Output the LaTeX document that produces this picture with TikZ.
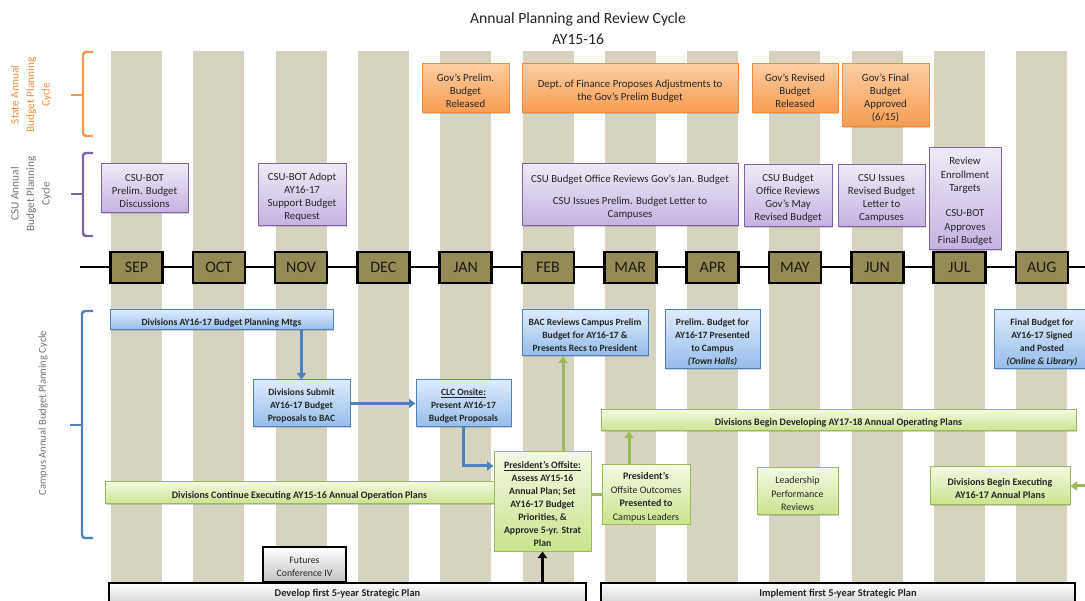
\documentclass[tikz,border=0pt]{standalone}
\usepackage{fontspec}
\setmainfont{Carlito}
\usetikzlibrary{fit,shadows,arrows.meta,calc}
\definecolor{stripe}{RGB}{214,211,192}
\definecolor{olive}{RGB}{148,138,84}
\definecolor{mtxt}{RGB}{30,28,20}
\definecolor{orgB}{RGB}{240,140,60}
\definecolor{orgT}{RGB}{252,205,160}
\definecolor{orgM}{RGB}{247,156,82}
\definecolor{purB}{RGB}{128,100,162}
\definecolor{purT}{RGB}{238,234,246}
\definecolor{purM}{RGB}{196,178,224}
\definecolor{bluB}{RGB}{79,129,189}
\definecolor{bluT}{RGB}{222,235,252}
\definecolor{bluM}{RGB}{150,188,236}
\definecolor{grnB}{RGB}{155,187,89}
\definecolor{grnT}{RGB}{242,249,226}
\definecolor{grnM}{RGB}{202,228,140}
\definecolor{txt}{RGB}{38,38,38}
\definecolor{lbl}{RGB}{115,115,115}
\tikzset{
  box/.style={inner sep=0pt, line width=1pt,
    drop shadow={shadow xshift=1.4pt, shadow yshift=-1.4pt, opacity=0.35}},
  btxt/.style={inner sep=0pt, align=center, text=txt, font=\fontsize{10.8}{13}\selectfont},
  btxtb/.style={btxt, font=\bfseries\fontsize{9.6}{13}\selectfont},
  btxtg/.style={btxt, font=\bfseries\fontsize{10}{13.5}\selectfont},
  obox/.style={box, draw=orgB, top color=orgT, bottom color=orgM},
  pbox/.style={box, draw=purB, top color=purT, bottom color=purM},
  bbox/.style={box, draw=bluB, top color=bluT, bottom color=bluM},
  gbox/.style={box, draw=grnB, top color=grnT, bottom color=grnM},
  kbox/.style={box, draw=black, top color=white, bottom color={rgb,255:red,195;green,195;blue,195}},
  mbox/.style={draw=black, line width=2.6pt, fill=olive, minimum width=52pt, minimum height=31pt,
    inner sep=0pt, text=mtxt, font=\fontsize{16}{18}\selectfont},
  barrow/.style={draw=bluB, line width=3pt, -{Triangle[length=6.5pt,width=9pt]}},
  garrow/.style={draw=grnB, line width=3pt, -{Triangle[length=6.5pt,width=9pt]}},
  karrow/.style={draw=black, line width=3pt, -{Triangle[length=6.5pt,width=9pt]}},
  brack/.style={line width=2.4pt, rounded corners=3pt},
  vlabel/.style={rotate=90, align=center, font=\fontsize{11.3}{15.5}\selectfont}
}
% #1 box style, #2 name, #3 fit corners, #4 text style, #5 text
\newcommand{\boxnode}[5]{%
  \node[#1, fit={#3}] (#2) {};
  \node[#4] (#2-t) at ([yshift=-2.5pt]#2.center) {#5};
}
\begin{document}
\begin{tikzpicture}[x=1pt,y=-1pt]
\clip (0,0) rectangle (1085,601);
\fill[white] (0,0) rectangle (1085,601);
% stripes
\foreach \i in {0,...,11}{
  \fill[stripe] ({111+82.3*\i},51) rectangle ({162+82.3*\i},601);
}
% title
\node[text=txt, font=\fontsize{15.6}{18}\selectfont] (title) at (578,19) {Annual Planning and Review Cycle};
\node[text=txt, font=\fontsize{15.6}{18}\selectfont] (ay) at (578,39) {AY15-16};
% timeline
\coordinate (tl) at (80,267);
\coordinate (tr) at (1090,267);
\draw[line width=2.4pt] (tl) -- (tr);
\foreach \m [count=\i from 0] in {SEP,OCT,NOV,DEC,JAN,FEB,MAR,APR,MAY,JUN,JUL,AUG}{
  \node[mbox] (m\i) at ({136.5+82.3*\i},267.5) {\m};
}
% brackets
\draw[brack, orgB!90!white] (93,52) -- (83,52) -- (83,136) -- (93,136);
\draw[line width=2.4pt, orgB!90!white] (83,95) -- (71,95);
\draw[brack, purB] (93,153) -- (83,153) -- (83,236) -- (93,236);
\draw[line width=2.4pt, purB] (83,194) -- (71,194);
\draw[brack, bluB] (93,311) -- (82,311) -- (82,538) -- (93,538);
\draw[line width=2.4pt, bluB] (82,425) -- (70,425);
\node[vlabel, text=orgB] (lstate) at (31,95) {State Annual\\Budget Planning\\Cycle};
\node[vlabel, text=lbl] (lcsu) at (31,194) {CSU Annual\\Budget Planning\\Cycle};
\node[vlabel, text=lbl, font=\fontsize{10.6}{12}\selectfont] (lcampus) at (43,413) {Campus Annual Budget Planning Cycle};
% state boxes
\boxnode{obox}{g1}{(422,64) (509,113)}{btxt}{Gov's Prelim.\\Budget\\Released}
\boxnode{obox}{g2}{(522,64) (738,113)}{btxt}{Dept. of Finance Proposes Adjustments to\\the Gov's Prelim Budget}
\boxnode{obox}{g3}{(752,64) (838,113)}{btxt}{Gov's Revised\\Budget\\Released}
\boxnode{obox}{g4}{(842,64) (929,127)}{btxt}{Gov's Final\\Budget\\Approved\\(6/15)}
% CSU boxes
\boxnode{pbox}{c1}{(101,164) (188,213)}{btxt}{CSU-BOT\\Prelim. Budget\\Discussions}
\boxnode{pbox}{c2}{(258,164) (346,226)}{btxt}{CSU-BOT Adopt\\AY16-17\\Support Budget\\Request}
\boxnode{pbox}{c3}{(522,164) (738,226)}{btxt}{CSU Budget Office Reviews Gov's Jan. Budget\\[9pt]CSU Issues Prelim. Budget Letter to\\Campuses}
\boxnode{pbox}{c4}{(744,165) (832,227)}{btxt}{CSU Budget\\Office Reviews\\Gov's May\\Revised Budget}
\boxnode{pbox}{c5}{(838,165) (925,227)}{btxt}{CSU Issues\\Revised Budget\\Letter to\\Campuses}
\boxnode{pbox}{c6}{(929,148) (1001,250)}{btxt, font=\fontsize{10.8}{13.6}\selectfont}{Review\\Enrollment\\Targets\\[11pt]CSU-BOT\\Approves\\Final Budget}
% campus blue boxes
\boxnode{bbox}{b1}{(110,310) (333,330)}{btxtb}{Divisions AY16-17 Budget Planning Mtgs}
\boxnode{bbox}{b2}{(253,380) (350,427)}{btxtb}{Divisions Submit\\AY16-17 Budget\\Proposals to BAC}
\boxnode{bbox}{b3}{(416,380) (511,427)}{btxtb}{\underline{CLC Onsite:}\\Present AY16-17\\Budget Proposals}
\boxnode{bbox}{b4}{(522,310) (648,356)}{btxtb}{BAC Reviews Campus Prelim\\Budget for AY16-17 \&\\Presents Recs to President}
\boxnode{bbox}{b5}{(665,310) (760,369)}{btxtb}{Prelim. Budget for\\AY16-17 Presented\\to Campus\\\textit{(Town Halls)}}
\boxnode{bbox}{b6}{(994,310) (1090,369)}{btxtb}{Final Budget for\\AY16-17 Signed\\and Posted\\\textit{(Online \& Library)}}
% green boxes
\boxnode{gbox}{e1}{(105,482) (494,504)}{btxtg}{Divisions Continue Executing AY15-16 Annual Operation Plans}
\boxnode{gbox}{off}{(494,452) (591,551)}{btxtg, font=\bfseries\fontsize{9.8}{12.9}\selectfont}{\underline{President's Offsite:}\\Assess AY15-16\\Annual Plan; Set\\AY16-17 Budget\\Priorities, \&\\Approve 5-yr. Strat\\Plan}
\boxnode{gbox}{outc}{(602,465) (690,524)}{btxtg, font=\fontsize{10}{13.5}\selectfont}{\textbf{President's}\\Offsite Outcomes\\\textbf{Presented to}\\Campus Leaders}
\boxnode{gbox}{dev}{(601,410) (1076,431)}{btxtg}{Divisions Begin Developing AY17-18 Annual Operating Plans}
\boxnode{gbox}{lead}{(757,468) (838,515)}{btxtg, font=\fontsize{10}{13.5}\selectfont}{Leadership\\Performance\\Reviews}
\boxnode{gbox}{exe}{(930,467) (1070,505)}{btxtg}{Divisions Begin Executing\\AY16-17 Annual Plans}
% gray boxes
\node[kbox, fit={(109,583) (586,612)}, line width=1.5pt] (plan1) {};
\node[text=txt, font=\bfseries\fontsize{10.4}{12}\selectfont] (plan1t) at (347.5,594) {Develop first 5-year Strategic Plan};
\node[kbox, fit={(601,583) (1075,612)}, line width=1.5pt] (plan2) {};
\node[text=txt, font=\bfseries\fontsize{10.4}{12}\selectfont] (plan2t) at (838,594) {Implement first 5-year Strategic Plan};
\boxnode{kbox, line width=2.2pt}{fut}{(263,547) (346,582)}{btxt, font=\fontsize{9.8}{13}\selectfont}{Futures\\Conference IV}
% arrows
\draw[barrow] (b1.south -| b2.north) -- (b2.north);
\draw[barrow] (b2.east) -- (b3.west);
\draw[barrow] (b3.south) |- ([yshift=35.5pt]off.west);
\draw[garrow] ([xshift=20.5pt]off.north) -- ([xshift=20.5pt]off.north |- b4.south);
\draw[draw=grnB, line width=3pt] (outc.west -| off.east) -- (outc.west);
\draw[garrow] ([xshift=-17pt]outc.north) -- ([xshift=-17pt]outc.north |- dev.south);
\coordinate (rt) at (1092,486);
\draw[garrow] (rt) -- (exe.east);
\draw[karrow] (off.south |- plan1.north) -- (off.south);
\end{tikzpicture}
\end{document}
